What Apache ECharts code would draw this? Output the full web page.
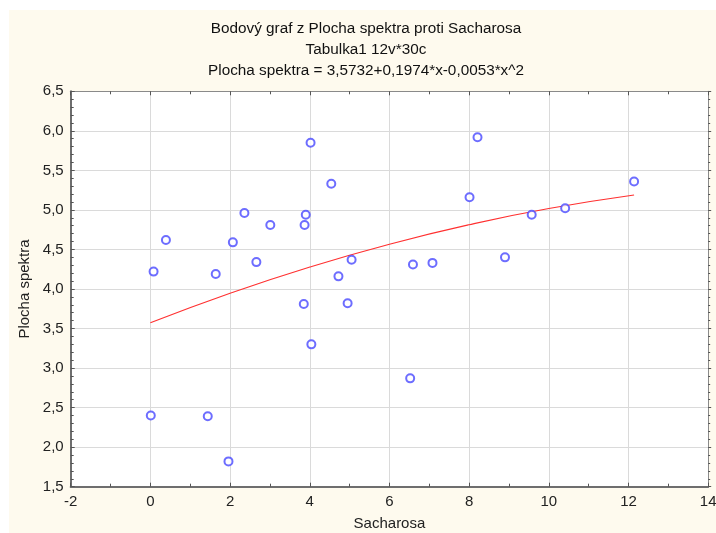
<!DOCTYPE html>
<html><head><meta charset="utf-8">
<script src="https://cdn.jsdelivr.net/npm/echarts@6/dist/echarts.min.js"></script>
<style>html,body{margin:0;padding:0;background:#fff}#c{width:716px;height:533px}</style>
</head><body><div id="c"></div>
<script>
const sacharosa = [4.02,4.54,2.36,3.90,3.87,3.01,0.39,2.07,2.66,0.08,1.64,5.05,4.72,3.85,4.95,4.04,0.01,1.44,1.96,8.21,12.14,8.01,9.57,10.41,8.90,6.59,7.08,6.52];
const plocha =    [5.85,5.33,4.96,4.94,4.81,4.81,4.62,4.59,4.34,4.22,4.19,4.37,4.16,3.81,3.82,3.30,2.40,2.39,1.82,5.92,5.36,5.16,4.94,5.02,4.40,4.31,4.33,2.87];
const fitX = [0, 2, 4, 6, 8, 10, 12.14];
const fitY = [3.573, 3.947, 4.278, 4.567, 4.813, 5.017, 5.188];
const titleLines = ['Bodový graf z Plocha spektra proti Sacharosa','Tabulka1 12v*30c','Plocha spektra = 3,5732+0,1974*x-0,0053*x^2'];
const xName = 'Sacharosa', yName = 'Plocha spektra';

const FONT = '"Liberation Sans", Arial, sans-serif';
const chart = echarts.init(document.getElementById('c'), null, {renderer:'canvas'});
const pts = sacharosa.map((x,i)=>[x, plocha[i]]);
const fit = fitX.map((x,i)=>[x, fitY[i]]);
const fmtY = v => v.toFixed(1).replace('.', ',');
const gridL = 70.7, gridT = 91.3, gridR = 716-708.2, gridB = 533-486.7;
chart.setOption({
  backgroundColor: '#ffffff',
  animation: false,
  graphic: [{type:'rect', z:-10, silent:true, shape:{x:9,y:10,width:707,height:523}, style:{fill:'#fefaee'}}],
  title: {
    text: titleLines.join('\n'), left: 361, top: 13, textAlign: 'center',
    textStyle: {fontFamily: FONT, fontSize: 15.3, fontWeight: 'normal', color: '#111', lineHeight: 21.3}
  },
  grid: {left: gridL, top: gridT, right: gridR, bottom: gridB, show: true, backgroundColor: '#ffffff', borderWidth: 0,
         containLabel: false, outerBoundsMode: 'none'},
  xAxis: [{
    type: 'value', min: -2, max: 14, interval: 2, position: 'bottom',
    name: xName, nameLocation: 'middle', nameGap: 30,
    nameTextStyle: {fontFamily: FONT, fontSize: 15, color: '#222'},
    axisLine: {show: true, onZero: false, lineStyle: {color: '#6e6e6e', width: 2}},
    axisTick: {show: true, inside: true, length: 4, lineStyle: {color: '#555'}},
    minorTick: {show: true, splitNumber: 2, length: 3, lineStyle: {color: '#555'}},
    axisLabel: {fontFamily: FONT, fontSize: 15, color: '#222', margin: 8},
    splitLine: {show: true, lineStyle: {color: '#dadada', width: 1}}
  },{
    type: 'value', min: -2, max: 14, interval: 2, position: 'top',
    axisLine: {show: true, onZero: false, lineStyle: {color: '#8a8a8a', width: 1}},
    axisTick: {show: true, inside: true, length: 4, lineStyle: {color: '#555'}},
    minorTick: {show: true, splitNumber: 2, length: 3, lineStyle: {color: '#555'}},
    axisLabel: {show: false}, splitLine: {show: false}
  }],
  yAxis: [{
    type: 'value', min: 1.5, max: 6.5, interval: 0.5, position: 'left',
    name: yName, nameLocation: 'middle', nameGap: 38,
    nameTextStyle: {fontFamily: FONT, fontSize: 15, color: '#222'},
    axisLine: {show: true, onZero: false, lineStyle: {color: '#6e6e6e', width: 2}},
    axisTick: {show: true, inside: true, length: 4, lineStyle: {color: '#555'}},
    minorTick: {show: true, splitNumber: 5, length: 3, lineStyle: {color: '#555'}},
    axisLabel: {fontFamily: FONT, fontSize: 15, color: '#222', margin: 7, formatter: fmtY},
    splitLine: {show: true, lineStyle: {color: '#dadada', width: 1}}
  },{
    type: 'value', min: 1.5, max: 6.5, interval: 0.5, position: 'right',
    axisLine: {show: true, onZero: false, lineStyle: {color: '#8a8a8a', width: 1}},
    axisTick: {show: true, inside: false, length: 3, lineStyle: {color: '#555'}},
    minorTick: {show: true, splitNumber: 5, length: 2, lineStyle: {color: '#555'}},
    axisLabel: {show: false}, splitLine: {show: false}
  }],
  series: [{
    type: 'line', data: fit, xAxisIndex: 0, yAxisIndex: 0, smooth: true,
    showSymbol: false, lineStyle: {color: '#ff3030', width: 1.1}, z: 2
  },{
    type: 'scatter', data: pts, xAxisIndex: 0, yAxisIndex: 0,
    symbol: 'emptyCircle', symbolSize: 8,
    itemStyle: {color: '#4848ff', borderColor: '#4848ff', borderWidth: 1.1}, z: 3
  }]
});
</script></body></html>
